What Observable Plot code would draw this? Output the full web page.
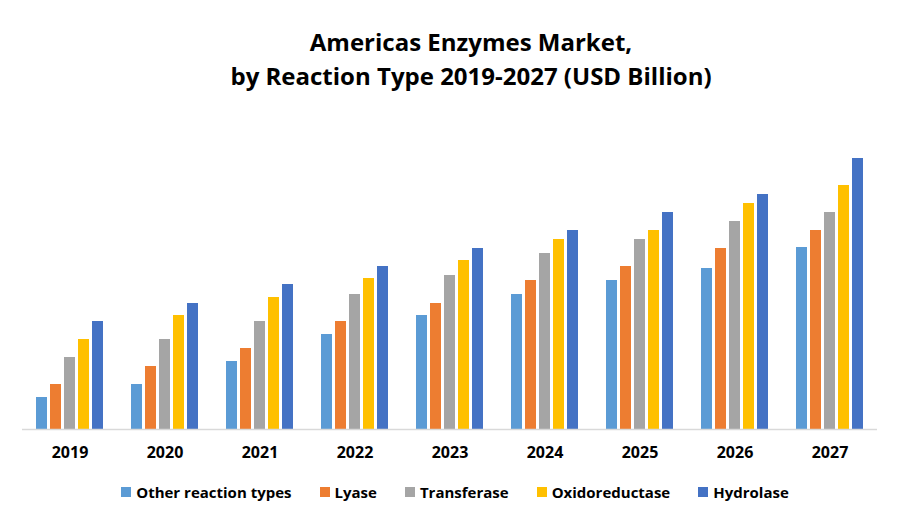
<!DOCTYPE html>
<html>
<head>
<meta charset="utf-8">
<script src="https://cdn.jsdelivr.net/npm/d3@7"></script>
<script src="https://cdn.jsdelivr.net/npm/@observablehq/plot@0.6"></script>
<style>
  html, body { margin: 0; padding: 0; background: #fff; }
  #wrap { position: relative; width: 900px; height: 525px; overflow: hidden; font-family: "Open Sans", sans-serif; }
  #title { position: absolute; left: 0; top: 25px; width: 942px; text-align: center; font-weight: bold; font-size: 24px; line-height: 34px; color: #000; }
  #chart { position: absolute; left: 0; top: 0; }
  #legend { position: absolute; left: 0; top: 482px; width: 910px; display: flex; justify-content: center; gap: 28px; font-weight: bold; font-size: 15px; color: #000; }
  .item { display: flex; align-items: center; gap: 5px; }
  .sw { width: 10px; height: 10px; display: inline-block; }
</style>
</head>
<body>
<div id="wrap">
  <div id="chart"></div>
  <div id="title">Americas Enzymes Market,<br>by Reaction Type 2019-2027 (USD Billion)</div>
  <div id="legend"></div>
</div>
<script>
const years = ["2019", "2020", "2021", "2022", "2023", "2024", "2025", "2026", "2027"];
const seriesNames = ["Other reaction types", "Lyase", "Transferase", "Oxidoreductase", "Hydrolase"];
const seriesColors = ["#5B9BD5", "#ED7D31", "#A5A5A5", "#FFC000", "#4472C4"];
const otherValues = [3.2, 4.5, 6.8, 9.5, 11.4, 13.5, 14.9, 16.1, 18.2];
const lyaseValues = [4.5, 6.3, 8.1, 10.8, 12.6, 14.9, 16.3, 18.1, 19.9];
const transferaseValues = [7.2, 9.0, 10.8, 13.5, 15.4, 17.6, 19.0, 20.8, 21.7];
const oxidoreductaseValues = [9.0, 11.4, 13.2, 15.1, 16.9, 19.0, 19.9, 22.6, 24.4];
const hydrolaseValues = [10.8, 12.6, 14.5, 16.3, 18.1, 19.9, 21.7, 23.5, 27.1];

const allSeries = [otherValues, lyaseValues, transferaseValues, oxidoreductaseValues, hydrolaseValues];
const data = [];
years.forEach((yr, i) => {
  seriesNames.forEach((s, j) => data.push({year: yr, series: s, value: allSeries[j][i]}));
});

const chart = Plot.plot({
  width: 900,
  height: 525,
  marginTop: 129,
  marginBottom: 96,
  marginLeft: 20,
  marginRight: 22,
  style: {fontFamily: "'Open Sans', sans-serif", fontSize: "16px", fontWeight: "bold", color: "#000", background: "transparent"},
  fx: {domain: years, padding: 0, label: null, axis: "bottom", tickSize: 0, tickPadding: 17},
  x: {domain: seriesNames, axis: null, paddingInner: 0.18, paddingOuter: 0.87},
  y: {domain: [0, 30], axis: null},
  color: {domain: seriesNames, range: seriesColors},
  marks: [
    Plot.barY(data, {fx: "year", x: "series", y: "value", fill: "series"}),
    Plot.ruleY([0], {stroke: "#d9d9d9", strokeWidth: 1.5})
  ]
});
document.getElementById("chart").appendChild(chart);

const legend = document.getElementById("legend");
seriesNames.forEach((s, j) => {
  const it = document.createElement("div");
  it.className = "item";
  const sw = document.createElement("span");
  sw.className = "sw";
  sw.style.background = seriesColors[j];
  const tx = document.createElement("span");
  tx.textContent = s;
  it.appendChild(sw);
  it.appendChild(tx);
  legend.appendChild(it);
});
</script>
</body>
</html>
